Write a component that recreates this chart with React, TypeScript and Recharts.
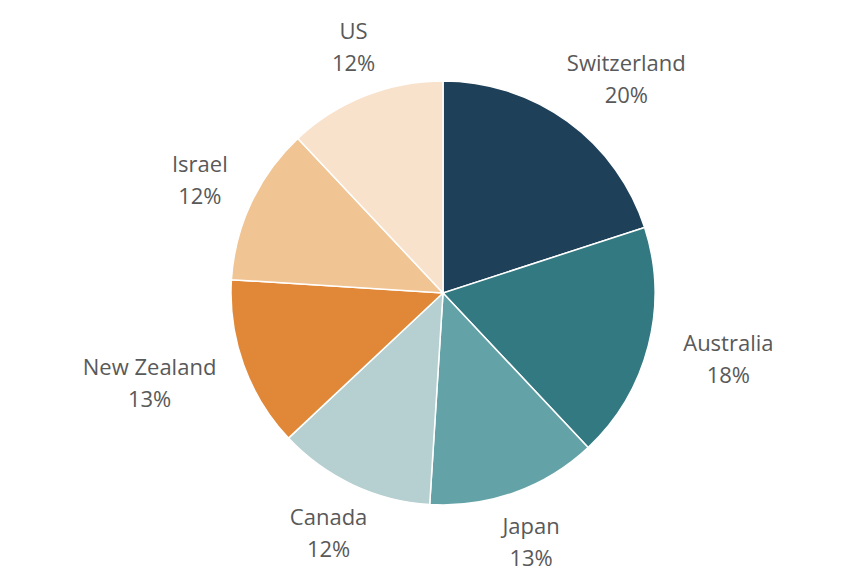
import { PieChart, Pie, Cell } from "recharts";

const countries = ["Switzerland", "Australia", "Japan", "Canada", "New Zealand", "Israel", "US"];
const shares = [20, 18, 13, 12, 13, 12, 12];
const COLORS = ["#1e4059", "#337981", "#63a2a7", "#b6cfd0", "#e08838", "#f0c493", "#f9e2cc"];

const data = countries.map((name, i) => ({ name, value: shares[i] }));

const RADIAN = Math.PI / 180;
const FONT = 22;

// place label box just outside the pie, pushed out by its own half size
const renderLabel = (props: any) => {
  const { cx, cy, midAngle, outerRadius, name, value } = props;
  const ux = Math.cos(-midAngle * RADIAN);
  const uy = Math.sin(-midAngle * RADIAN);
  const w = Math.max(name.length, 3) * FONT * 0.49;
  const h = 60;
  const x = cx + (outerRadius + 5 + 1.6 * (w / 2)) * ux;
  const y = cy + (outerRadius + 5 + 1.6 * (h / 2)) * uy;
  return (
    <text x={x} y={y} textAnchor="middle" fill="#595959" fontSize={FONT} fontFamily="'Open Sans', sans-serif">
      <tspan x={x} dy={-8}>{name}</tspan>
      <tspan x={x} dy={32}>{value}%</tspan>
    </text>
  );
};

export default function App() {
  return (
    <div style={{ position: "absolute", left: 0, top: 0, width: 850, height: 580, background: "#fff" }}>
      <PieChart width={850} height={580} margin={{ top: 0, right: 0, bottom: 0, left: 0 }}>
        <Pie
          data={data}
          dataKey="value"
          nameKey="name"
          cx={443}
          cy={293}
          outerRadius={212}
          startAngle={90}
          endAngle={-270}
          stroke="#ffffff"
          strokeWidth={1.5}
          label={renderLabel}
          labelLine={false}
          isAnimationActive={false}
        >
          {data.map((_, i) => (
            <Cell key={i} fill={COLORS[i]} />
          ))}
        </Pie>
      </PieChart>
    </div>
  );
}
